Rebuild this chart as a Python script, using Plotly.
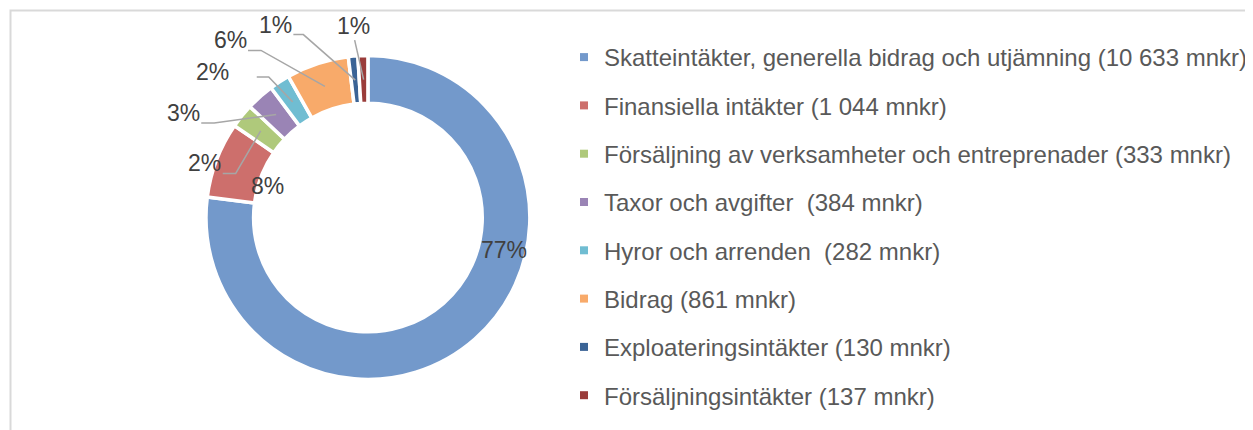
import math
import plotly.graph_objects as go

# ---------------- data ----------------
categories = [
    "Skatteintäkter, generella bidrag och utjämning",
    "Finansiella intäkter",
    "Försäljning av verksamheter och entreprenader",
    "Taxor och avgifter",
    "Hyror och arrenden",
    "Bidrag",
    "Exploateringsintäkter",
    "Försäljningsintäkter",
]
values_mnkr = [10633, 1044, 333, 384, 282, 861, 130, 137]
legend_labels = [
    "Skatteintäkter, generella bidrag och utjämning (10 633 mnkr)",
    "Finansiella intäkter (1 044 mnkr)",
    "Försäljning av verksamheter och entreprenader (333 mnkr)",
    "Taxor och avgifter \u00a0(384 mnkr)",
    "Hyror och arrenden \u00a0(282 mnkr)",
    "Bidrag (861 mnkr)",
    "Exploateringsintäkter (130 mnkr)",
    "Försäljningsintäkter (137 mnkr)",
]
colors = ["#7399CB", "#CD6F6C", "#AFC97B", "#9A84B5", "#70BDD2", "#F8AA6A", "#3B6496", "#9A3C3A"]

# ---------------- layout constants (page pixels) ----------------
W, H = 1253, 430
OFF = 8                     # default body margin of the html page
FW, FH = W - OFF, H - OFF   # figure size
CX, CY = 368.5, 217.5       # donut centre (page px)
R_OUT = 162.2               # plotly outer radius (px)
HOLE = 0.706
LINE_W = 3.5
R_MID = 138.0               # radius where label anchors sit

# text centre offsets from anchor (px) and leader line spec (start offset from text centre, elbow length)
label_offsets = [(45, -71), (28, 18), (-56, 32), (-93, -2), (-80, -30), (-95, -46), (-80, -55), (-10, -54)]
leaders = [None, None, (18, 10.5, 13), (18, 10.5, 13), (44, 5, 12), (18, 10, 13), (18, 9.5, 10), (1, 14.5, 0)]

total = sum(values_mnkr)
pcts = [round(v / total * 100) for v in values_mnkr]


def paper(x, y):
    return (x - OFF) / FW, 1 - (y - OFF) / FH


fig = go.Figure()
dx0, dy0 = paper(CX - R_OUT, CY + R_OUT)
dx1, dy1 = paper(CX + R_OUT, CY - R_OUT)
fig.add_trace(go.Pie(
    values=values_mnkr,
    labels=categories,
    sort=False,
    direction="clockwise",
    rotation=0,
    hole=HOLE,
    textinfo="none",
    hoverinfo="label+value+percent",
    marker=dict(colors=colors, line=dict(color="white", width=LINE_W)),
    showlegend=False,
    domain=dict(x=[dx0, dx1], y=[dy0, dy1]),
))

# legend entries
for i, (lab, col) in enumerate(zip(legend_labels, colors)):
    fig.add_trace(go.Scatter(
        x=[None], y=[None], mode="markers", name=lab,
        marker=dict(symbol="square", size=8, color=col),
        legendgroup=f"g{i}", showlegend=True, hoverinfo="skip",
    ))

annotations = []
shapes = []
cum = 0.0
for i, v in enumerate(values_mnkr):
    mid = (cum + v / 2) / total * 2 * math.pi
    cum += v
    ax_ = CX + R_MID * math.sin(mid)
    ay_ = CY - R_MID * math.cos(mid)
    dx, dy = label_offsets[i]
    tx, ty = ax_ + dx, ay_ + dy
    px_, py_ = paper(tx, ty)
    annotations.append(dict(
        x=px_, y=py_, xref="paper", yref="paper", text=f"{pcts[i]}%",
        showarrow=False, xanchor="center", yanchor="middle",
        font=dict(family="Liberation Sans, Arial, sans-serif", size=23, color="#404040"),
    ))
    if leaders[i] is not None:
        sx, sy, h = leaders[i]
        x0, y0 = tx + sx, ty + sy
        x1, y1 = x0 + h, y0
        p0, p1, p2 = paper(x0, y0), paper(x1, y1), paper(ax_, ay_)
        shapes.append(dict(
            type="path", xref="paper", yref="paper",
            path=f"M {p0[0]},{p0[1]} L {p1[0]},{p1[1]} L {p2[0]},{p2[1]}",
            line=dict(color="#A6A6A6", width=1.5),
        ))

# chart border
bx0, by1 = paper(10.5, 10.5)
shapes.append(dict(type="rect", xref="paper", yref="paper",
                   x0=bx0, y0=-0.1, x1=1.1, y1=by1,
                   line=dict(color="#D9D9D9", width=2), fillcolor="rgba(0,0,0,0)", layer="below"))

lx, ly = paper(565, 35)
fig.update_layout(
    width=FW, height=FH,
    margin=dict(l=0, r=0, t=0, b=0),
    paper_bgcolor="white", plot_bgcolor="white",
    xaxis=dict(visible=False), yaxis=dict(visible=False),
    annotations=annotations, shapes=shapes,
    showlegend=True,
    legend=dict(
        x=lx, y=ly, xanchor="left", yanchor="top",
        font=dict(family="Liberation Sans, Arial, sans-serif", size=24, color="#595959"),
        tracegroupgap=14.1, bgcolor="rgba(0,0,0,0)",
        itemclick=False, itemdoubleclick=False,
    ),
)

fig.write_html("out.html")
